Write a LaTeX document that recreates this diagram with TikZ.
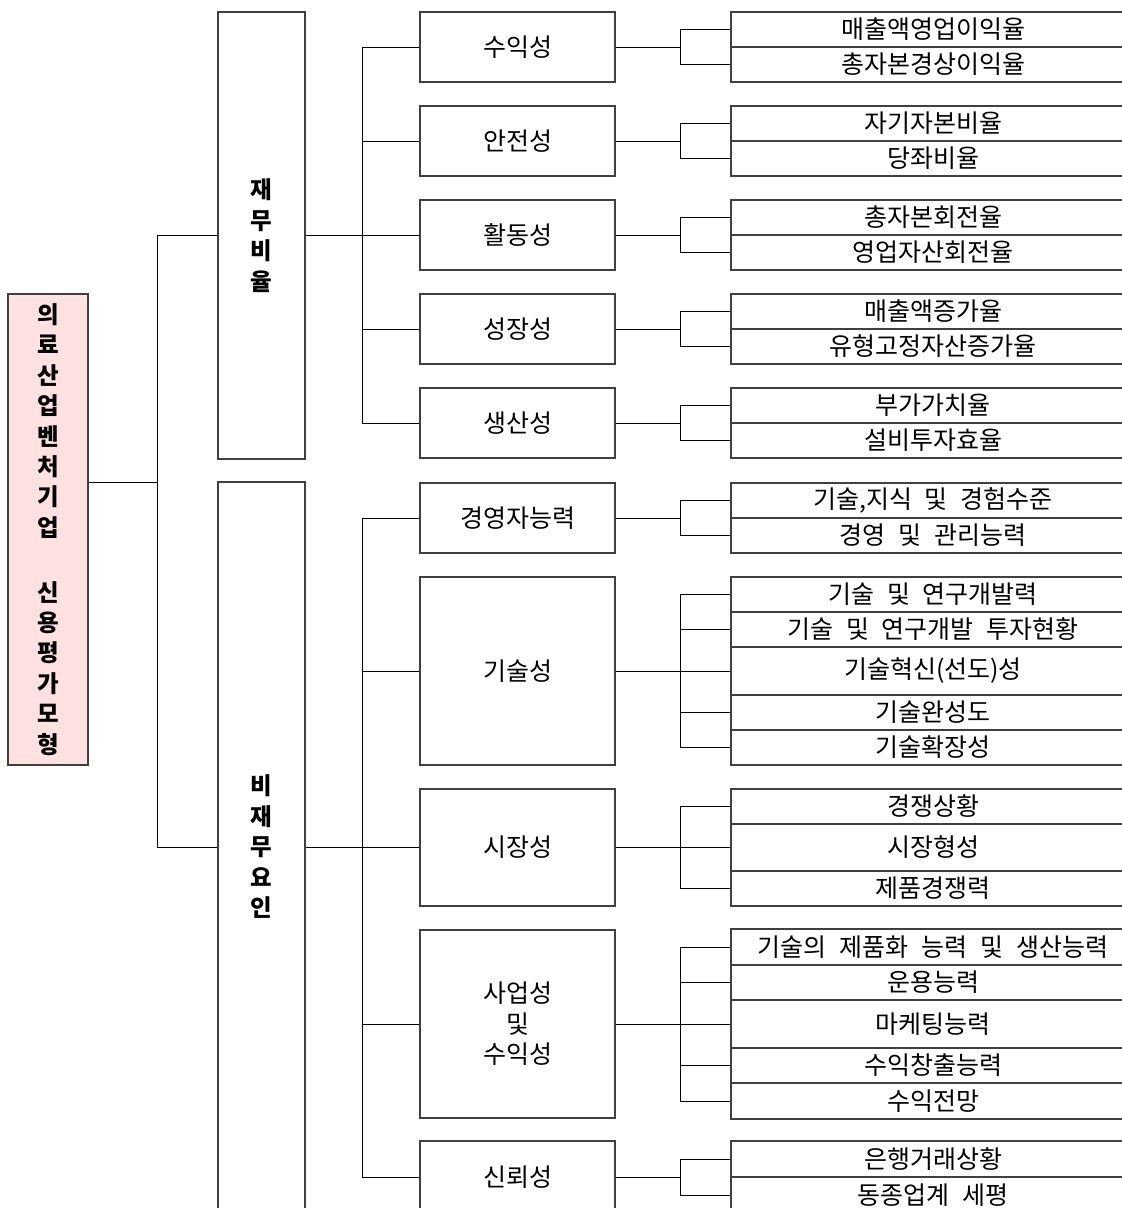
\documentclass[tikz,border=0pt]{standalone}
\usepackage{fontspec}
\setmainfont{Noto Sans CJK KR}[WordSpace=2.3]
\definecolor{rootpink}{RGB}{255,225,225}
\begin{document}
\begin{tikzpicture}[x=1pt,y=-1pt,
  box/.style={draw=black!75, line width=1.1pt, inner sep=0pt, align=center,
              font=\fontsize{25}{30.5}\selectfont},
  leaf/.style={box, minimum width=404pt},
  midbox/.style={box, minimum width=195pt},
  topbox/.style={box, minimum width=87pt, font=\fontsize{23.5}{30.5}\selectfont\bfseries},
  rootbox/.style={box, fill=rootpink, minimum width=80pt, font=\fontsize{23.5}{30.4}\selectfont\bfseries},
  link/.style={draw=black, line width=1pt}]
\useasboundingbox (0,0) rectangle (1122,1208);
\clip (0,0) rectangle (1122,1208);

% root
\node[rootbox, minimum height=471pt] (root) at (48,529.5)
  {의\\료\\산\\업\\벤\\처\\기\\업\\[34.5pt]신\\용\\평\\가\\모\\형};

% level 1
\node[topbox, minimum height=447pt] (fin) at (261.5,235.5) {재\\무\\비\\율};
\node[topbox, minimum height=730pt] (non) at (261.5,847) {비\\재\\무\\요\\인};

% level 2
\node[midbox, minimum height=70pt] (f1) at (517.5,47) {수익성};
\node[midbox, minimum height=70pt] (f2) at (517.5,141) {안전성};
\node[midbox, minimum height=70pt] (f3) at (517.5,235) {활동성};
\node[midbox, minimum height=70pt] (f4) at (517.5,329) {성장성};
\node[midbox, minimum height=70pt] (f5) at (517.5,423) {생산성};
\node[midbox, minimum height=70pt] (n1) at (517.5,518) {경영자능력};
\node[midbox, minimum height=188pt] (n2) at (517.5,671) {기술성};
\node[midbox, minimum height=117pt] (n3) at (517.5,847.5) {시장성};
\node[midbox, minimum height=188pt] (n4) at (517.5,1024) {사업성\\및\\수익성};
\node[midbox, minimum height=72pt] (n5) at (517.5,1177) {신뢰성};

% leaves
\node[leaf, minimum height=35pt] (f1a) at (933,29.5) {매출액영업이익율};
\node[leaf, minimum height=35pt] (f1b) at (933,64.5) {총자본경상이익율};
\node[leaf, minimum height=35pt] (f2a) at (933,123.5) {자기자본비율};
\node[leaf, minimum height=35pt] (f2b) at (933,158.5) {당좌비율};
\node[leaf, minimum height=35pt] (f3a) at (933,217.5) {총자본회전율};
\node[leaf, minimum height=35pt] (f3b) at (933,252.5) {영업자산회전율};
\node[leaf, minimum height=35pt] (f4a) at (933,311.5) {매출액증가율};
\node[leaf, minimum height=35pt] (f4b) at (933,346.5) {유형고정자산증가율};
\node[leaf, minimum height=35pt] (f5a) at (933,405.5) {부가가치율};
\node[leaf, minimum height=35pt] (f5b) at (933,440.5) {설비투자효율};
\node[leaf, minimum height=35pt] (n1a) at (933,500.5) {기술,지식 및 경험수준};
\node[leaf, minimum height=35pt] (n1b) at (933,535.5) {경영 및 관리능력};
\node[leaf, minimum height=35pt] (n2a) at (933,594.5) {기술 및 연구개발력};
\node[leaf, minimum height=35pt] (n2b) at (933,629.5) {기술 및 연구개발 투자현황};
\node[leaf, minimum height=48pt] (n2c) at (933,671) {기술혁신(선도)성};
\node[leaf, minimum height=35pt] (n2d) at (933,712.5) {기술완성도};
\node[leaf, minimum height=35pt] (n2e) at (933,747.5) {기술확장성};
\node[leaf, minimum height=35pt] (n3a) at (933,806.5) {경쟁상황};
\node[leaf, minimum height=47pt] (n3b) at (933,847.5) {시장형성};
\node[leaf, minimum height=35pt] (n3c) at (933,888.5) {제품경쟁력};
\node[leaf, minimum height=36pt] (n4a) at (933,947) {기술의 제품화 능력 및 생산능력};
\node[leaf, minimum height=35pt] (n4b) at (933,982.5) {운용능력};
\node[leaf, minimum height=48pt] (n4c) at (933,1024) {마케팅능력};
\node[leaf, minimum height=35pt] (n4d) at (933,1065.5) {수익창출능력};
\node[leaf, minimum height=36pt] (n4e) at (933,1101) {수익전망};
\node[leaf, minimum height=36pt] (n5a) at (933,1159) {은행거래상황};
\node[leaf, minimum height=36pt] (n5b) at (933,1195) {동종업계 세평};

% connector columns
\coordinate (rx) at (157,482);
\coordinate (ax) at (362,0);
\coordinate (bx) at (680,0);

% root -> level 1
\draw[link] (root.east |- rx) -- (rx);
\draw[link] (fin.west -| rx) -- (non.west -| rx);
\draw[link] (fin.west -| rx) -- (fin.west);
\draw[link] (non.west -| rx) -- (non.west);

% level 1 -> level 2
\draw[link] (fin.east) -- (fin.east -| ax);
\draw[link] (f1.west -| ax) -- (f5.west -| ax);
\draw[link] (non.east) -- (non.east -| ax);
\draw[link] (n1.west -| ax) -- (n5.west -| ax);
\foreach \n in {f1,f2,f3,f4,f5,n1,n2,n3,n4,n5}
  \draw[link] (\n.west -| ax) -- (\n.west);

% level 2 -> leaves
\foreach \p/\a/\b in {f1/f1a/f1b,f2/f2a/f2b,f3/f3a/f3b,f4/f4a/f4b,f5/f5a/f5b,
                      n1/n1a/n1b,n2/n2a/n2e,n3/n3a/n3c,n4/n4a/n4e,n5/n5a/n5b}{
  \draw[link] (\p.east) -- (\p.east -| bx);
  \draw[link] (\a.west -| bx) -- (\b.west -| bx);
}
\foreach \l in {f1a,f1b,f2a,f2b,f3a,f3b,f4a,f4b,f5a,f5b,n1a,n1b,
                n2a,n2b,n2c,n2d,n2e,n3a,n3b,n3c,n4a,n4b,n4c,n4d,n4e,n5a,n5b}
  \draw[link] (\l.west -| bx) -- (\l.west);
\end{tikzpicture}
\end{document}
